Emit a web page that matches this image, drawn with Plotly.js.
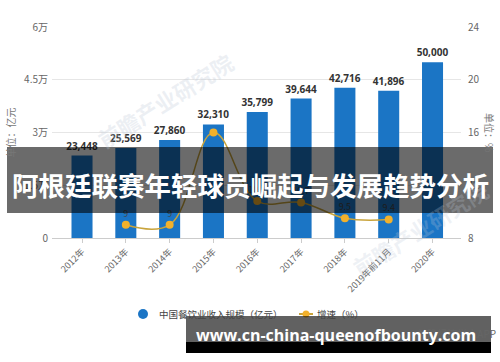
<!DOCTYPE html>
<html>
<head>
<meta charset="utf-8">
<script src="https://cdn.plot.ly/plotly-3.0.1.min.js"></script>
<style>html,body{margin:0;padding:0;background:#fff;}#chart{width:500px;height:362px;}</style>
</head>
<body>
<div id="chart"></div>
<script>
const years = ["2012年","2013年","2014年","2015年","2016年","2017年","2018年","2019年前11月","2020年"];
const revenue = [23448, 25569, 27860, 32310, 35799, 39644, 42716, 41896, 50000];
const growth = [null, 9.0, 9.0, 16.0, 10.8, 10.7, 9.5, 9.4, null];
const growthLabels = ["", "9", "9", "", "10.8", "10.7", "9.5", "9.4", ""];
const leftTickVals = [0, 15000, 30000, 45000, 60000];
const leftTickText = ["0", "1.5万", "3万", "4.5万", "6万"];
const rightTickVals = [8, 12, 16, 20, 24];
const seriesNames = ["中国餐饮业收入规模（亿元）", "增速（%）"];
const bannerTitle = "阿根廷联赛年轻球员崛起与发展趋势分析";
const watermarkUrl = "www.cn-china-queenofbounty.com";

const FONT = "Noto Sans CJK SC, Noto Sans, sans-serif";
const BLUE = "#1b75c5";
const GOLD = "#f2b12c";
const LINE = "#c9a43c";

const traces = [
  {
    type: "bar", x: years, y: revenue, name: seriesNames[0],
    marker: {color: BLUE}, showlegend: false,
    texttemplate: "%{y:,}", textposition: "outside", cliponaxis: false,
    constraintext: "none",
    textfont: {family: "Open Sans, Noto Sans, sans-serif", size: 10, color: "#333", weight: 700},
    hoverinfo: "skip"
  },
  {
    type: "scatter", mode: "lines+markers+text", x: years, y: growth, yaxis: "y2",
    name: seriesNames[1], connectgaps: false, showlegend: false,
    line: {color: LINE, width: 1.5, shape: "spline", smoothing: 1.1},
    marker: {color: GOLD, size: 8},
    text: growthLabels, textposition: "top center",
    textfont: {family: FONT, size: 9, color: "#444"},
    cliponaxis: false, hoverinfo: "skip"
  }
];

const plotL = 52, plotR = 461, plotT = 27, plotB = 238;
const pw = plotR - plotL, ph = plotB - plotT;
const px = v => (v - plotL) / pw;
const py = v => (plotB - v) / ph;

function ann(text, x, y, font, extra) {
  return Object.assign({text: text, xref: "paper", yref: "paper", x: px(x), y: py(y),
    xanchor: "center", yanchor: "middle", showarrow: false, font: font}, extra || {});
}
function rect(x0, x1, y0, y1, fill) {
  return {type: "rect", xref: "paper", yref: "paper", x0: px(x0), x1: px(x1), y0: py(y1), y1: py(y0),
    fillcolor: fill, line: {width: 0}, layer: "above"};
}
function dot(cx, cy, r, fill) {
  return {type: "circle", xref: "paper", yref: "paper", x0: px(cx - r), x1: px(cx + r),
    y0: py(cy + r), y1: py(cy - r), fillcolor: fill, line: {width: 0}, layer: "below"};
}

const legY = 315;

const layout = {
  width: 500, height: 362,
  margin: {l: plotL, r: 500 - plotR, t: plotT, b: 362 - plotB},
  paper_bgcolor: "#fff", plot_bgcolor: "#fff",
  font: {family: FONT, size: 10, color: "#555"},
  bargap: 0.52,
  showlegend: false,
  xaxis: {
    type: "category", range: [-0.685, 8.65],
    tickangle: -45, tickfont: {size: 9, color: "#666"},
    showline: true, linecolor: "#ccc", linewidth: 1,
    ticks: "outside", ticklen: 4, tickcolor: "#ccc",
    showgrid: false, fixedrange: true
  },
  yaxis: {
    range: [0, 60000], tickvals: leftTickVals, ticktext: leftTickText,
    showgrid: true, gridcolor: "#e6e6e6", gridwidth: 1, zeroline: false,
    tickfont: {size: 10, color: "#666"}, ticks: "", ticklabelstandoff: 3,
    title: {text: "单位：亿元", font: {size: 10, color: "#777"}, standoff: 6}
  },
  yaxis2: {
    overlaying: "y", side: "right", range: [8, 24], tickvals: rightTickVals,
    showgrid: false, zeroline: false, tickfont: {size: 10, color: "#666"},
    ticks: "", ticklabelstandoff: 6
  },
  shapes: [
    dot(143, legY - 1, 5, BLUE),
    {type: "line", xref: "paper", yref: "paper", x0: px(299), x1: px(313), y0: py(legY - 1), y1: py(legY - 1),
     line: {color: LINE, width: 2}, layer: "below"},
    dot(306, legY - 1, 3.5, GOLD),
    rect(7, 493, 147, 213, "rgba(0,0,0,0.58)"),
    rect(186, 491, 316, 342, "rgba(0,0,0,0.62)"),
    rect(186, 491, 342, 353, "#000")
  ],
  annotations: [
    ann("前瞻产业研究院", 165, 100, {size: 22, color: "rgba(190,200,215,0.28)", weight: 700}, {textangle: -32}),
    ann("前瞻产业研究院", 420, 228, {size: 22, color: "rgba(190,200,215,0.25)", weight: 700}, {textangle: -32}),
    ann("单位：%", 490, 132, {size: 10, color: "#777"}, {textangle: 90}),
    ann(seriesNames[0], 157, legY - 1, {size: 9.5, color: "#444"}, {xanchor: "left"}),
    ann(seriesNames[1], 315, legY - 1, {size: 9.5, color: "#444"}, {xanchor: "left"}),
    ann("©前瞻经济学人APP", 452, 333, {size: 10, color: "#666"}),
    ann(bannerTitle, 250, 184, {size: 26.5, color: "#fff", weight: 700}),
    ann(watermarkUrl, 336, 335, {family: "Open Sans, DejaVu Sans, sans-serif", size: 16, color: "#fff", weight: 700})
  ]
};

Plotly.newPlot("chart", traces, layout, {displayModeBar: false, staticPlot: true});
</script>
</body>
</html>
